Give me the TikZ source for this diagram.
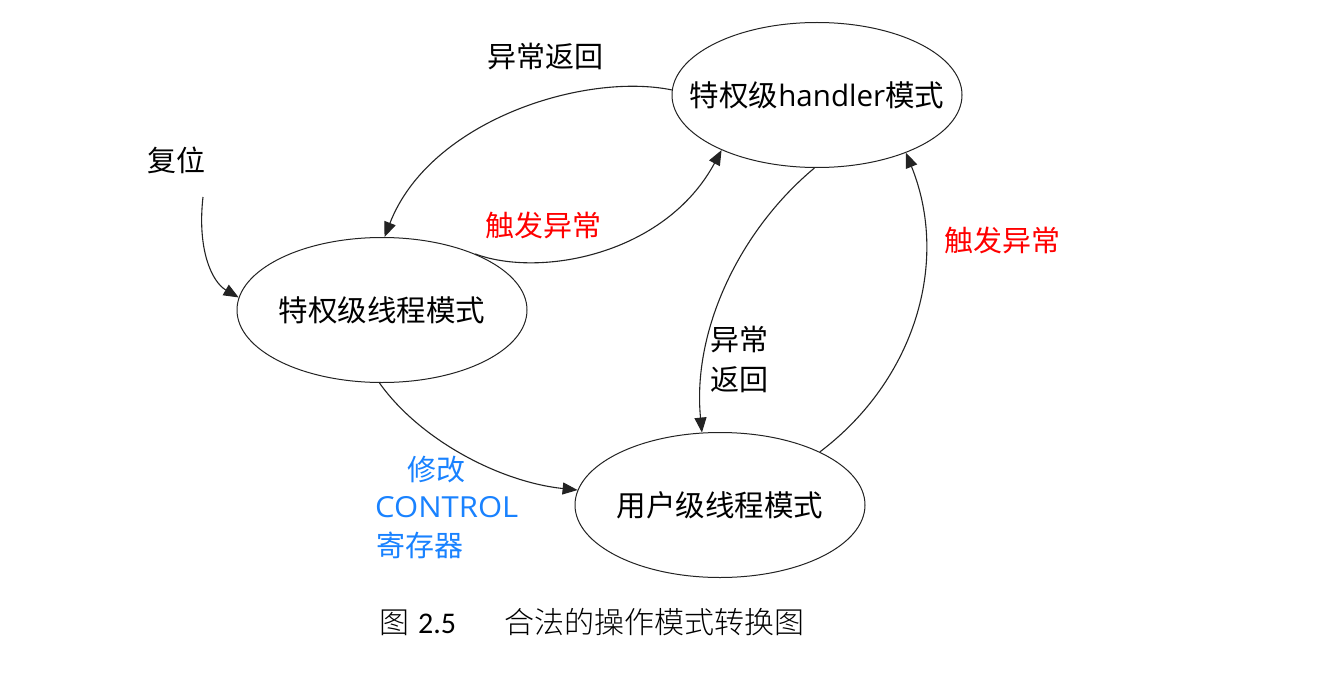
\documentclass[tikz,border=0pt]{standalone}
\usepackage{fontspec}
\usepackage{graphicx}
\setmainfont{Open Sans}
\newfontfamily\cjk{Noto Sans CJK SC}
\newfontfamily\song{Noto Sans CJK SC Light}
\newfontfamily\carlito{Carlito}
\usetikzlibrary{shapes.geometric,arrows.meta}
\definecolor{lineg}{RGB}{35,35,35}
\definecolor{myred}{RGB}{255,0,0}
\definecolor{myblue}{RGB}{25,130,255}
\begin{document}
\begin{tikzpicture}[x=1pt,y=-1pt,
  state/.style={ellipse, draw=lineg, line width=1pt, minimum width=290pt, minimum height=145pt, inner xsep=-40pt, inner ysep=0pt, font=\fontsize{29.5}{35}\selectfont},
  lbl/.style={font=\fontsize{29}{35}\selectfont\cjk, inner sep=0pt},
  conn/.style={draw=lineg, line width=1.1pt, -{Triangle[length=15pt,width=12pt]}},
]
\path[use as bounding box, fill=white] (0,0) rectangle (1322,674);

% states
\node[state] (H) at (817,95) {{\cjk 特权级}handler{\cjk 模式}};
\node[state] (T) at (382,310) {\cjk 特权级线程模式};
\node[state] (U) at (720,505) {\cjk 用户级线程模式};

% labels
\node[lbl] (reset) at (176,160) {复位};
\coordinate (r0) at (203,197);
\node[lbl] (ret1) at (545,57) {异常返回};
\node[lbl, text=myred] (exc1) at (543,225) {触发异常};
\node[lbl, text=myred] (exc2) at (1002,240) {触发异常};
\node[lbl, anchor=west] (ret2a) at (710,340) {异常};
\node[lbl, anchor=west] (ret2b) at (710,380) {返回};
\node[lbl, text=myblue, anchor=west] (ctl1) at (407,470) {修改};
\node[lbl, text=myblue, anchor=west, font=\fontsize{29}{35}\selectfont] (ctl2) at (375,507) {\scalebox{1.07}[1]{CONTROL}};
\node[lbl, text=myblue, anchor=west] (ctl3) at (376,545) {寄存器};

% connectors
\draw[conn] (r0) .. controls (197,250) and (212,282) .. (T.175);
\draw[conn] (H.178) .. controls (585,72) and (430,120) .. (T.88);
\draw[conn] (T.31) .. controls (540,278) and (665,255) .. (H.210);
\draw[conn] (H.268) .. controls (740,230) and (692,330) .. (U.104);
\draw[conn] (U.28) .. controls (915,380) and (950,262) .. (H.327);
\draw[conn] (T.268) .. controls (420,440) and (500,482) .. (U.174);

% caption
\node[anchor=west, inner sep=0pt, font=\fontsize{30}{36}\selectfont] (cap) at (379,622)
  {{\song 图}\hspace{9pt}{\carlito 2.5}\hspace{48pt}{\song 合法的操作模式转换图}};
\end{tikzpicture}
\end{document}
